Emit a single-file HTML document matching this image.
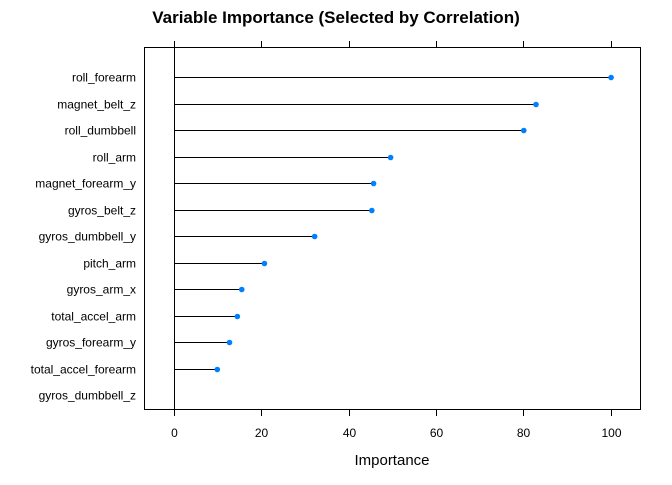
<!DOCTYPE html>
<html><head><style>body{margin:0;background:#fff}svg text{font-family:"Liberation Sans",Arial,sans-serif}</style></head>
<body>
<svg id="c" width="672" height="480">
<text x="336" y="23" text-anchor="middle" font-size="17" font-weight="bold">Variable Importance (Selected by Correlation)</text>
<rect x="144.5" y="47.5" width="496" height="362" fill="none" stroke="#000"/>
<text x="392" y="465" text-anchor="middle" font-size="15">Importance</text>
</svg>
<script>
const categories=["roll_forearm","magnet_belt_z","roll_dumbbell","roll_arm","magnet_forearm_y","gyros_belt_z","gyros_dumbbell_y","pitch_arm","gyros_arm_x","total_accel_arm","gyros_forearm_y","total_accel_forearm","gyros_dumbbell_z"];
const values=[100,82.8,80,49.5,45.6,45.2,32.1,20.6,15.4,14.4,12.6,9.8,0];
const ticks=[0,20,40,60,80,100];
const svg=document.getElementById('c');const NS='http://www.w3.org/2000/svg';
const xs=v=>174.5+v*4.366;
const ys=i=>Math.round(77+i*26.5)+0.5;
function mk(t,a){const e=document.createElementNS(NS,t);for(const k in a)e.setAttribute(k,a[k]);svg.appendChild(e);return e;}
ticks.forEach(t=>{
 const x=Math.round(xs(t)-0.5)+0.5;
 let l=mk('line',{x1:x,x2:x,y1:409.5,y2:416,stroke:'#000'});
 
 
 let l2=mk('line',{x1:x,x2:x,y1:47.5,y2:41,stroke:'#000'});
 
 
 let tx=mk('text',{x:x,y:437,'text-anchor':'middle','font-size':12});tx.textContent=t;
 
 
});
let z=mk('line',{x1:174.5,x2:174.5,y1:47.5,y2:409.5,stroke:'#000'});


categories.forEach((c,i)=>{
 const y=ys(i);
 let tx=mk('text',{x:136,y:y+4,'text-anchor':'end','font-size':12});tx.textContent=c;
 
 
 if(values[i]>0){
 let l=mk('line',{x1:174.5,x2:xs(values[i]),y1:y,y2:y,stroke:'#000'});
 
 
 let p=mk('circle',{cx:xs(values[i]),cy:y,r:2.8,fill:'#0080ff'});
 
 
 }
});
</script>
</body></html>
